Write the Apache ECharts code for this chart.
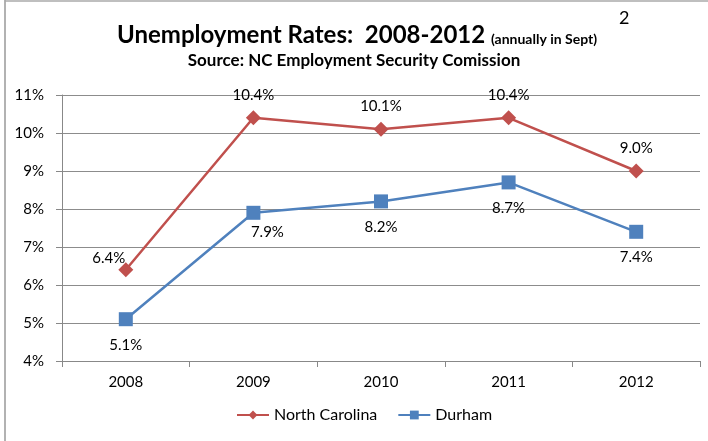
<!DOCTYPE html>
<html>
<head>
<meta charset="utf-8">
<script src="https://cdn.jsdelivr.net/npm/echarts@6/dist/echarts.min.js"></script>
<style>
  html, body { margin: 0; padding: 0; background: #fff; }
  #chart { width: 708px; height: 441px; }
</style>
</head>
<body>
<div id="chart"></div>
<script>
// Data
var years = ['2008', '2009', '2010', '2011', '2012'];
var northCarolina = [6.4, 10.4, 10.1, 10.4, 9.0];
var durham = [5.1, 7.9, 8.2, 8.7, 7.4];

var chart = echarts.init(document.getElementById('chart'), null, { renderer: 'canvas' });

var fontFamily = 'Lato, "Open Sans", sans-serif';
var pctFormatter = function(p) { return p.value.toFixed(1) + '%'; };

chart.setOption({
    animation: false,
    textStyle: { fontFamily: fontFamily, color: '#000' },

    // Frame and title text
    graphic: [
        { type: 'line', shape: { x1: 5, y1: 0, x2: 5, y2: 441 }, style: { stroke: '#999', lineWidth: 1.5 } },
        { type: 'line', shape: { x1: 5, y1: 1, x2: 708, y2: 1 }, style: { stroke: '#aaa', lineWidth: 1.5 } },
        {
            type: 'text', left: 117, top: 23,
            style: {
                text: '{a|Unemployment Rates:  2008-2012 }{b|(annually in Sept)}',
                rich: {
                    a: { fontFamily: fontFamily, fontWeight: 'bold', fontSize: 24, fill: '#000' },
                    b: { fontFamily: fontFamily, fontWeight: 'bold', fontSize: 14, fill: '#000', padding: [8, 0, 0, 0] }
                }
            }
        },
        { type: 'text', left: 619, top: 9, style: { text: '2', fontFamily: fontFamily, fontSize: 18, fill: '#000' } },
        {
            type: 'text', left: 'center', top: 52,
            style: { text: 'Source: NC Employment Security Comission', fontFamily: fontFamily, fontWeight: 'bold', fontSize: 17, fill: '#000' }
        }
    ],

    grid: { left: 62, right: 8, top: 95, bottom: 80 },

    legend: {
        bottom: 13,
        left: 231,
        itemWidth: 32,
        itemHeight: 11,
        itemGap: 20,
        textStyle: { fontFamily: fontFamily, fontSize: 16, color: '#000' },
        data: ['North Carolina', 'Durham']
    },

    xAxis: {
        type: 'category',
        data: years,
        boundaryGap: true,
        axisLine: { lineStyle: { color: '#888' } },
        axisTick: { show: true, length: 6, lineStyle: { color: '#888' } },
        axisLabel: { fontFamily: fontFamily, fontSize: 15, color: '#000', margin: 14 }
    },

    yAxis: {
        type: 'value',
        min: 4,
        max: 11,
        interval: 1,
        axisLine: { show: true, lineStyle: { color: '#888' } },
        axisTick: { show: true, length: 6, lineStyle: { color: '#888' } },
        axisLabel: { fontFamily: fontFamily, fontSize: 15, color: '#000', margin: 18, formatter: '{value}%' },
        splitLine: { lineStyle: { color: '#8c8c8c', width: 1 } }
    },

    series: [
        {
            name: 'North Carolina',
            type: 'line',
            data: northCarolina.map(function(v, i) {
                var item = { value: v };
                if (i === 0) item.label = { offset: [-17, 11] };
                return item;
            }),
            symbol: 'diamond',
            symbolSize: 15,
            color: '#C0504D',
            lineStyle: { width: 2.5, color: '#C0504D' },
            itemStyle: { color: '#C0504D' },
            label: {
                show: true,
                position: 'top',
                distance: 8,
                fontFamily: fontFamily,
                fontSize: 15,
                color: '#000',
                formatter: pctFormatter
            }
        },
        {
            name: 'Durham',
            type: 'line',
            data: durham.map(function(v, i) {
                var item = { value: v };
                if (i === 1) item.label = { offset: [14, -6] };
                return item;
            }),
            symbol: 'rect',
            symbolSize: 14,
            color: '#4F81BD',
            lineStyle: { width: 2.5, color: '#4F81BD' },
            itemStyle: { color: '#4F81BD' },
            label: {
                show: true,
                position: 'bottom',
                distance: 11,
                fontFamily: fontFamily,
                fontSize: 15,
                color: '#000',
                formatter: pctFormatter
            }
        }
    ]
});
</script>
</body>
</html>
